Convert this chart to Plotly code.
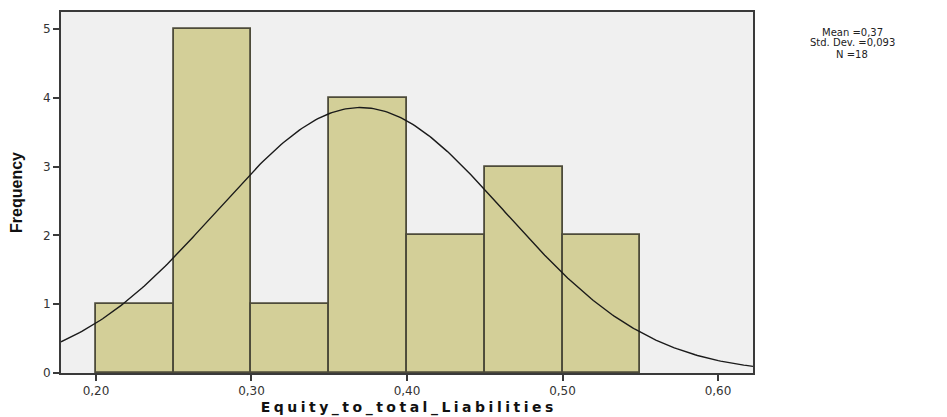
import numpy as np
import plotly.graph_objects as go

# Histogram bins (lower edges) and counts
bin_starts = [0.20, 0.25, 0.30, 0.35, 0.40, 0.45, 0.50]
counts = [1, 5, 1, 4, 2, 3, 2]
bin_width = 0.05

# Summary statistics
mean_val = 0.37
std_val = 0.093
n_obs = 18

x_ticks = [0.20, 0.30, 0.40, 0.50, 0.60]
y_ticks = [0, 1, 2, 3, 4, 5]
x_range = [0.1775, 0.6225]
y_range = [0, 5.25]

x_title = "Equity_to_total_Liabilities"
y_title = "Frequency"

centers = [s + bin_width / 2 for s in bin_starts]

# Fitted normal curve scaled to frequency
xc = np.linspace(x_range[0], x_range[1], 300)
yc = n_obs * bin_width / (std_val * np.sqrt(2 * np.pi)) * np.exp(-0.5 * ((xc - mean_val) / std_val) ** 2)

fig = go.Figure()
fig.add_trace(go.Bar(
    x=centers, y=counts, width=bin_width,
    marker=dict(color="#D3CF98", line=dict(color="#4d4b3a", width=1.8)),
    hoverinfo="skip",
))
fig.add_trace(go.Scatter(
    x=xc, y=yc, mode="lines",
    line=dict(color="#1a1a1a", width=1.4),
    hoverinfo="skip",
))

tick_font = dict(family="DejaVu Sans", size=12, color="#333")

# widen the x-axis title with four-per-em spaces between letters
spaced_x_title = "\u2005".join(x_title)


def comma(v, digits):
    return f"{v:.{digits}f}".replace(".", ",")


fig.update_layout(
    width=947, height=417,
    margin=dict(l=61, r=194, t=12, b=44, autoexpand=False),
    paper_bgcolor="white",
    plot_bgcolor="#F0F0F0",
    showlegend=False,
    separators=",.",
    bargap=0,
    xaxis=dict(
        range=x_range, tickvals=x_ticks, tickformat=".2f",
        showgrid=False, zeroline=False, automargin=False,
        showline=True, linecolor="#3a3a3a", linewidth=2, mirror=True,
        ticks="outside", ticklen=6, tickwidth=2, tickcolor="#3a3a3a",
        tickfont=tick_font,
        title=dict(text=f"<b>{spaced_x_title}</b>",
                   font=dict(family="DejaVu Sans", size=14, color="#111"), standoff=5),
    ),
    yaxis=dict(
        range=y_range, tickvals=y_ticks,
        showgrid=False, zeroline=False, automargin=False,
        showline=True, linecolor="#3a3a3a", linewidth=2, mirror=True,
        ticks="outside", ticklen=6, tickwidth=2, tickcolor="#3a3a3a",
        tickfont=tick_font,
        title=dict(text=f"<b>{y_title}</b>",
                   font=dict(family="Liberation Sans Narrow, Arial Narrow, sans-serif", size=16, color="#111"),
                   standoff=16),
    ),
)

stats_lines = [f"Mean ={comma(mean_val, 2)}",
               f"Std. Dev. ={comma(std_val, 3)}",
               f"N ={n_obs}"]
for i, line in enumerate(stats_lines):
    fig.add_annotation(
        text=line, xref="paper", yref="paper",
        x=1 + (852 - 753) / 692, y=1 - (32 + 11 * i - 12) / 361,
        xanchor="center", yanchor="middle", showarrow=False,
        font=dict(family="DejaVu Sans", size=10, color="#222"),
    )

fig.write_html("out.html")
